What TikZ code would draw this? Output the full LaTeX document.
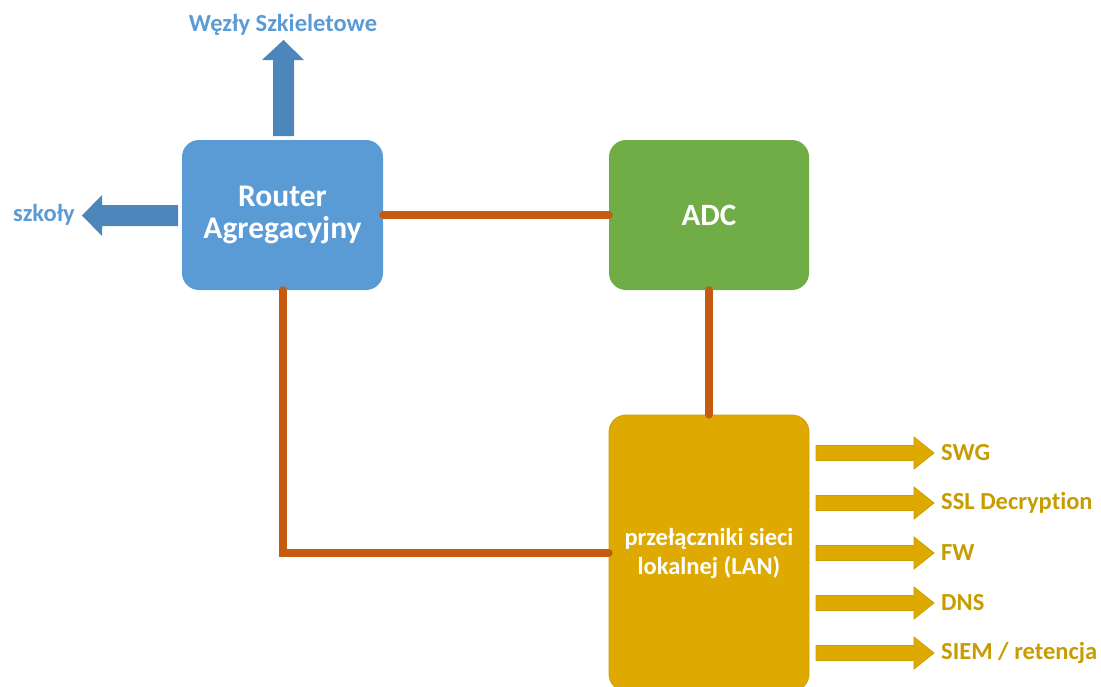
\documentclass[tikz,border=0pt]{standalone}
\usepackage{fontspec}
\setmainfont{Carlito}[Ligatures=NoCommon]
\usetikzlibrary{calc}
\definecolor{boxblue}{HTML}{5B9BD5}
\definecolor{arrblue}{HTML}{4C86BA}
\definecolor{txtblue}{HTML}{5B9BD5}
\definecolor{boxgreen}{HTML}{70AD47}
\definecolor{boxgold}{HTML}{DEA900}
\definecolor{goldedge}{HTML}{CDA000}
\definecolor{txtgold}{HTML}{C79C00}
\definecolor{linkor}{HTML}{C55A11}
\tikzset{
  devbox/.style={rounded corners=17pt, inner sep=0pt, align=center, text=white, font=\bfseries},
  link/.style={draw=linkor, line width=8pt, line cap=round},
  blockblue/.style={fill=arrblue},
  blockgold/.style={fill=boxgold, draw=goldedge, line width=0.8pt},
  lbl/.style={font=\bfseries\fontsize{24.5}{29}\selectfont, inner sep=0pt},
}
\begin{document}
\begin{tikzpicture}[x=1pt,y=-1pt]
\useasboundingbox (0,0) rectangle (1101,686);
\clip (0,0) rectangle (1101,686);
% boxes
\node[devbox, fill=boxblue, minimum width=201pt, minimum height=150pt, font=\bfseries\fontsize{31.5}{32}\selectfont] (R) at (282.5,215) {Router\\Agregacyjny};
\node[devbox, fill=boxgreen, minimum width=200pt, minimum height=150pt, font=\bfseries\fontsize{31}{34}\selectfont] (A) at (709,215) {ADC};
\node[devbox, fill=boxgold, draw=goldedge, line width=0.8pt, minimum width=200pt, minimum height=276pt, font=\bfseries\fontsize{24.5}{29}\selectfont] (L) at (709,553) {przełączniki sieci\\lokalnej (LAN)};
% connectors
\draw[link] (R.east) -- (A.west);
\draw[link] (A.south) -- (L.north);
\draw[link] (R.south) |- (L.west);
% blue block arrows
\fill[blockblue] (273,136) -- (273,60) -- (262,60) -- (283.5,40) -- (304,60) -- (294,60) -- (294,136) -- cycle;
\fill[blockblue] (178,205) -- (102,205) -- (102,195) -- (82,215.5) -- (102,236) -- (102,226) -- (178,226) -- cycle;
\node[lbl, text=txtblue] (wez) at (283,25) {Węzły Szkieletowe};
\node[lbl, text=txtblue, anchor=east] (szk) at (75,215) {szkoły};
% gold arrows and labels
\foreach \y/\t [count=\i] in {453/{SWG}, 503/{SSL Decryption}, 553/{FW}, 603/{DNS}, 653/{SIEM {/} retencja}}{
  \draw[blockgold] (816,\y-7.5) -- (914,\y-7.5) -- (914,\y-16) -- (934,\y) -- (914,\y+16) -- (914,\y+7.5) -- (816,\y+7.5) -- cycle;
  \node[lbl, text=txtgold, anchor=west] (g\i) at (941,\y) {\t};
}
\end{tikzpicture}
\end{document}
